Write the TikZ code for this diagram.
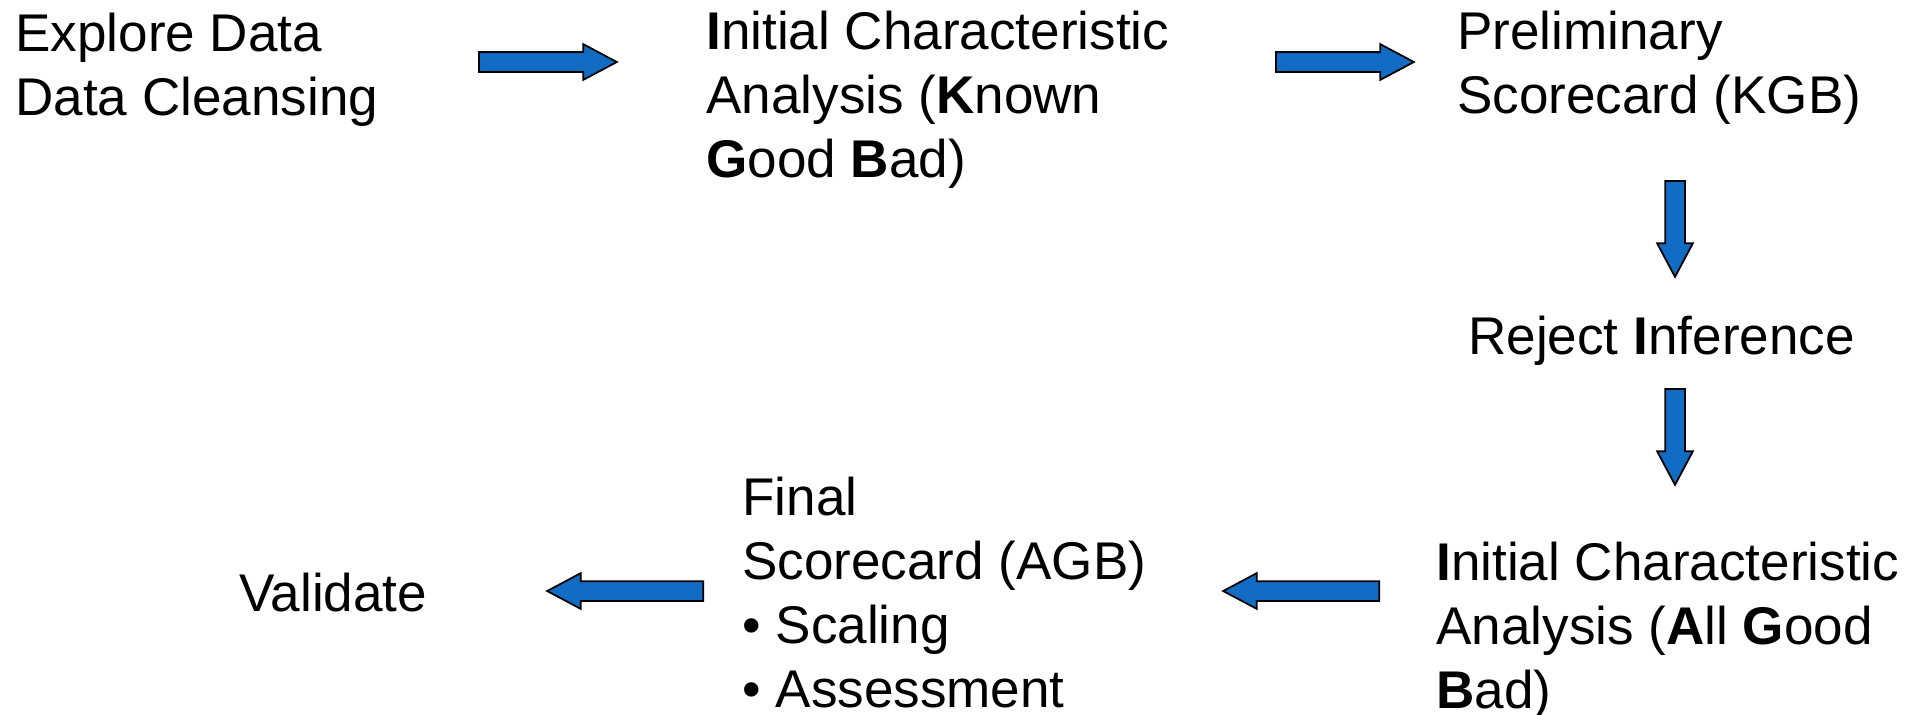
\documentclass[tikz,border=0pt]{standalone}
\usepackage{fontspec}
\setmainfont{Liberation Sans}
\usetikzlibrary{shapes.arrows}
\definecolor{Flow}{HTML}{126CC4}

\begin{document}
\begin{tikzpicture}[x=.02cm,y=-.02cm,
  stagetxt/.style={anchor=base west,inner sep=0,align=left,font=\fontsize{30.2pt}{36.3pt}\selectfont},
  flowarrow/.style={single arrow,draw=black,fill=Flow,line width=1pt,inner xsep=0,inner ysep=.18cm,
    single arrow head extend=.16cm,single arrow tip angle=56,anchor=tail}]
  \fill[white] (0,0) rectangle (1923,714);
  \useasboundingbox (0,0) rectangle (1923,714);
  \node[stagetxt] (explore) at (15,115) {Explore Data\\Data Cleansing};
  \node[stagetxt] (ickgb) at (706,177) {\textbf{I}nitial Characteristic\\Analysis (\textbf{K}nown\\\textbf{G}ood \textbf{B}ad)};
  \node[stagetxt] (prelim) at (1457,113) {Preliminary\\Scorecard (KGB)};
  \node[stagetxt] (reject) at (1468,354) {Reject \textbf{I}nference};
  \node[stagetxt] (icagb) at (1436,708) {\textbf{I}nitial Characteristic\\Analysis (\textbf{A}ll \textbf{G}ood\\\textbf{B}ad)};
  \node[stagetxt] (final) at (742,707) {Final\\Scorecard (AGB)\\• Scaling\\• Assessment};
  \node[stagetxt] (validate) at (239,611) {Validate};
  \foreach \name/\pos/\len/\ang in {go1/{(478,62)}/2.76/0,go2/{(1275,62)}/2.76/0,
      go3/{(1675,180)}/1.92/-90,go4/{(1675,388)}/1.92/-90,
      go5/{(1380,591)}/3.12/180,go6/{(704,591)}/3.12/180}
    \node[flowarrow,minimum height=\len cm,rotate=\ang] (\name) at \pos {};
\end{tikzpicture}
\end{document}
